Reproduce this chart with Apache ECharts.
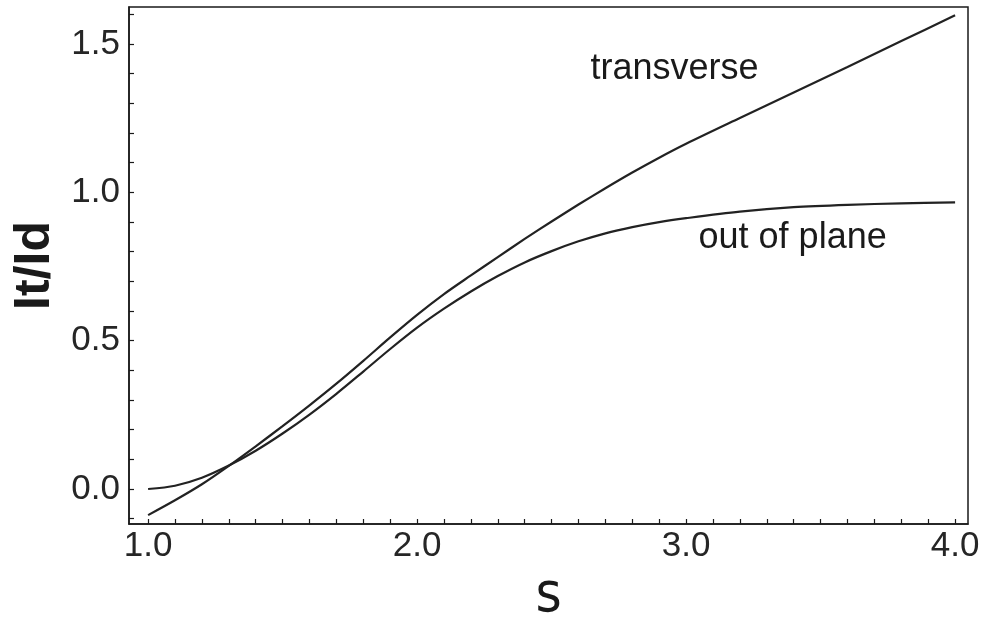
<!DOCTYPE html>
<html>
<head>
<meta charset="utf-8">
<script src="https://cdn.jsdelivr.net/npm/echarts@6/dist/echarts.min.js"></script>
<style>
html,body{margin:0;padding:0;background:#fff;}
#chart{width:981px;height:623px;}
</style>
</head>
<body>
<div id="chart"></div>
<script>
// ---- data ----
const s = [1.0,1.1,1.2,1.3,1.4,1.5,1.6,1.7,1.8,1.9,2.0,2.1,2.2,2.3,2.4,2.5,2.6,2.7,2.8,2.9,3.0,3.2,3.4,3.6,3.8,4.0];
const transverse = [-0.088,-0.038,0.016,0.078,0.144,0.212,0.282,0.355,0.432,0.511,0.587,0.657,0.720,0.782,0.843,0.902,0.959,1.014,1.067,1.117,1.164,1.251,1.337,1.423,1.510,1.597];
const outOfPlane = [0.000,0.011,0.038,0.079,0.129,0.187,0.251,0.321,0.396,0.472,0.544,0.608,0.666,0.718,0.764,0.802,0.835,0.862,0.883,0.900,0.913,0.935,0.950,0.958,0.963,0.966];

const xTickLabels = [1.0,2.0,3.0,4.0];
const yTickLabels = [0.0,0.5,1.0,1.5];
const xMinorTicks = [1.0,1.1,1.2,1.3,1.4,1.5,1.6,1.7,1.8,1.9,2.0,2.1,2.2,2.3,2.4,2.5,2.6,2.7,2.8,2.9,3.0,3.1,3.2,3.3,3.4,3.5,3.6,3.7,3.8,3.9,4.0];
const yMinorTicks = [-0.1,0.0,0.1,0.2,0.3,0.4,0.5,0.6,0.7,0.8,0.9,1.0,1.1,1.2,1.3,1.4,1.5,1.6];

const seriesNames = ['transverse','out of plane'];
// annotation labels (text, s, value)
const annotations = [
  ['transverse', 2.957, 1.417],
  ['out of plane', 3.396, 0.847]
];

const ink = '#1a1a1a';
const sans = 'Liberation Sans, Arial, sans-serif';
const cond = 'DejaVu Sans Condensed, Liberation Sans, sans-serif';
const chart = echarts.init(document.getElementById('chart'), null, {renderer:'canvas'});

function pairs(xs, ys){ return xs.map((x,i)=>[x, ys[i]]); }

const option = {
  backgroundColor:'#fff',
  animation:false,
  grid:{left:129, right:13, top:7, bottom:99, show:true, borderColor:ink, borderWidth:1.5,
        containLabel:false, outerBoundsMode:'none'},
  xAxis:{
    type:'value', min:0.929, max:4.048,
    name:'s', nameLocation:'middle', nameGap:31,
    nameTextStyle:{fontFamily:cond, fontSize:56, color:ink},
    axisLine:{show:true, onZero:false, lineStyle:{color:ink, width:1.5}},
    axisTick:{show:true, inside:true, length:5, customValues:xMinorTicks, lineStyle:{color:ink, width:1.2}},
    axisLabel:{show:true, customValues:xTickLabels, margin:5, formatter:v=>Number(v).toFixed(1),
      fontFamily:sans, fontSize:35, color:'#262626'},
    splitLine:{show:false}
  },
  yAxis:{
    type:'value', min:-0.118, max:1.625,
    name:'It/Id', nameLocation:'middle', nameGap:67, nameRotate:90,
    nameTextStyle:{fontFamily:sans, fontSize:50, fontWeight:'bold', color:ink},
    axisLine:{show:true, onZero:false, lineStyle:{color:ink, width:1.5}},
    axisTick:{show:true, inside:true, length:5, customValues:yMinorTicks, lineStyle:{color:ink, width:1.2}},
    axisLabel:{show:true, customValues:yTickLabels, margin:9, formatter:v=>Number(v).toFixed(1),
      fontFamily:sans, fontSize:35, color:'#262626'},
    splitLine:{show:false}
  },
  series:[
    {name:seriesNames[0], type:'line', data:pairs(s, transverse), smooth:0.3,
      showSymbol:false, symbol:'none', lineStyle:{color:'#222', width:2.2}},
    {name:seriesNames[1], type:'line', data:pairs(s, outOfPlane), smooth:0.3,
      showSymbol:false, symbol:'none', lineStyle:{color:'#222', width:2.2}},
    {name:'labels', type:'scatter', symbolSize:0, silent:true, itemStyle:{color:'#000', opacity:1},
      data:annotations.map(a=>({value:[a[1], a[2]], name:a[0]})),
      label:{show:true, position:'inside', formatter:p=>p.name, opacity:1,
        fontFamily:sans, fontSize:36, color:'#1a1a1a'}}
  ]
};
chart.setOption(option);
</script>
</body>
</html>
